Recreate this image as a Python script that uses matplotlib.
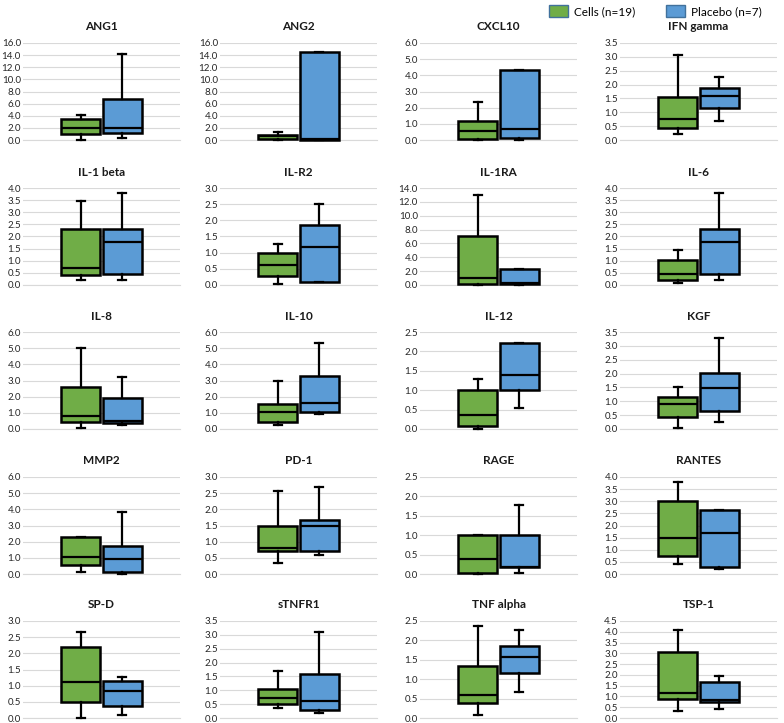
import matplotlib
matplotlib.use("Agg")
from matplotlib import pyplot as plt
from matplotlib.patches import Patch
import numpy as np

plt.rcParams['font.family'] = ['Lato', 'DejaVu Sans']

# === Datos: (min, q1, mediana, q3, max) por marcador ===
markers = ["ANG1", "ANG2", "CXCL10", "IFN gamma",
           "IL-1 beta", "IL-R2", "IL-1RA", "IL-6",
           "IL-8", "IL-10", "IL-12", "KGF",
           "MMP2", "PD-1", "RAGE", "RANTES",
           "SP-D", "sTNFR1", "TNF alpha", "TSP-1"]

cells = [
    (0.05, 1.0, 2.0, 3.4, 4.1),
    (0.0, 0.1, 0.7, 0.9, 1.4),
    (0.0, 0.05, 0.55, 1.2, 2.35),
    (0.2, 0.45, 0.75, 1.55, 3.05),
    (0.2, 0.42, 0.7, 2.32, 3.45),
    (0.04, 0.28, 0.62, 1.0, 1.26),
    (0.0, 0.2, 1.0, 7.0, 13.0),
    (0.1, 0.22, 0.47, 1.03, 1.44),
    (0.05, 0.42, 0.82, 2.6, 5.0),
    (0.22, 0.45, 1.08, 1.52, 2.95),
    (0.0, 0.08, 0.37, 1.0, 1.3),
    (0.05, 0.42, 0.9, 1.15, 1.52),
    (0.15, 0.55, 1.05, 2.3, 2.3),
    (0.35, 0.7, 0.8, 1.47, 2.56),
    (0.0, 0.02, 0.38, 1.0, 1.0),
    (0.42, 0.75, 1.5, 3.02, 3.78),
    (0.0, 0.5, 1.1, 2.2, 2.65),
    (0.37, 0.5, 0.72, 1.05, 1.7),
    (0.08, 0.38, 0.6, 1.35, 2.37),
    (0.32, 0.87, 1.15, 3.05, 4.07),
]

placebo = [
    (0.3, 1.2, 1.9, 6.7, 14.2),
    (0.0, 0.05, 0.1, 14.5, 14.5),
    (0.0, 0.1, 0.65, 4.35, 4.35),
    (0.68, 1.15, 1.58, 1.88, 2.28),
    (0.22, 0.45, 1.78, 2.32, 3.78),
    (0.08, 0.1, 1.16, 1.87, 2.52),
    (0.0, 0.1, 0.35, 2.25, 2.25),
    (0.22, 0.45, 1.78, 2.32, 3.78),
    (0.22, 0.4, 0.5, 1.93, 3.22),
    (0.9, 1.05, 1.6, 3.25, 5.3),
    (0.55, 1.0, 1.38, 2.22, 2.22),
    (0.25, 0.65, 1.48, 2.03, 3.3),
    (0.0, 0.1, 0.9, 1.72, 3.85),
    (0.58, 0.7, 1.5, 1.68, 2.68),
    (0.02, 0.17, 0.17, 1.0, 1.77),
    (0.22, 0.3, 1.68, 2.65, 2.65),
    (0.1, 0.36, 0.85, 1.15, 1.26),
    (0.17, 0.3, 0.6, 1.57, 3.12),
    (0.67, 1.15, 1.57, 1.86, 2.27),
    (0.4, 0.72, 0.85, 1.67, 1.97),
]

y_max = [16, 16, 6, 3.5, 4, 3, 14, 4, 6, 6, 2.5, 3.5, 6, 3, 2.5, 4, 3, 3.5, 2.5, 4.5]
y_step = [2, 2, 1, 0.5, 0.5, 0.5, 2, 0.5, 1, 1, 0.5, 0.5, 1, 0.5, 0.5, 0.5, 0.5, 0.5, 0.5, 0.5]

GREEN = '#70AD47'
BLUE = '#5B9BD5'
GRID = '#D9D9D9'

W, H = 784, 723
col_left = [23, 220, 420, 620]
col_w = 157
row_top = [43, 188, 332, 477, 621]
row_h = 97


def stats(t):
    lo, q1, med, q3, hi = t
    return dict(whislo=lo, q1=q1, med=med, q3=q3, whishi=hi, fliers=[])


fig = plt.figure(figsize=(W / 100, H / 100), dpi=100)
fig.patch.set_facecolor('white')

for i, name in enumerate(markers):
    r, c = divmod(i, 4)
    left = col_left[c] / W
    bottom = 1 - (row_top[r] + row_h) / H
    ax = fig.add_axes([left, bottom, col_w / W, row_h / H])

    for pos, data, color in [(0, cells[i], GREEN), (1, placebo[i], BLUE)]:
        ax.bxp([stats(data)], positions=[pos], widths=0.94, patch_artist=True,
               showfliers=False,
               boxprops=dict(facecolor=color, edgecolor='black', linewidth=1.8),
               medianprops=dict(color='black', linewidth=1.6),
               whiskerprops=dict(color='black', linewidth=1.6),
               capprops=dict(color='black', linewidth=1.6),
               capwidths=0.18, zorder=3)

    ax.set_xlim(-1.4, 2.4)
    ax.set_ylim(0, y_max[i])
    ticks = np.arange(0, y_max[i] + y_step[i] / 2, y_step[i])
    ax.set_yticks(ticks)
    ax.set_yticklabels([f"{t:.1f}" for t in ticks], fontsize=7, color='#262626')
    ax.set_xticks([])
    ax.tick_params(axis='y', length=0, pad=1.5)
    ax.grid(axis='y', color=GRID, linewidth=0.8, zorder=0)
    ax.set_axisbelow(True)
    for side in ['top', 'right', 'left']:
        ax.spines[side].set_visible(False)
    ax.spines['bottom'].set_color(GRID)
    ax.spines['bottom'].set_linewidth(0.8)
    for art in ax.get_children():
        try:
            art.set_clip_on(False)
        except AttributeError:
            pass
    ax.set_title(name, fontsize=8.5, fontweight='bold', pad=9, color='#1a1a1a')

handles = [Patch(facecolor=GREEN, edgecolor='#41719C', label='Cells (n=19)'),
           Patch(facecolor=BLUE, edgecolor='#41719C', label='Placebo (n=7)')]
fig.legend(handles=handles, loc='upper right', bbox_to_anchor=(0.985, 1.008), ncol=2,
           frameon=False, fontsize=8.5, handlelength=1.6, handleheight=1.2,
           columnspacing=2.6, handletextpad=0.5)

plt.savefig('out.png', dpi=100, facecolor='white')
plt.close()
